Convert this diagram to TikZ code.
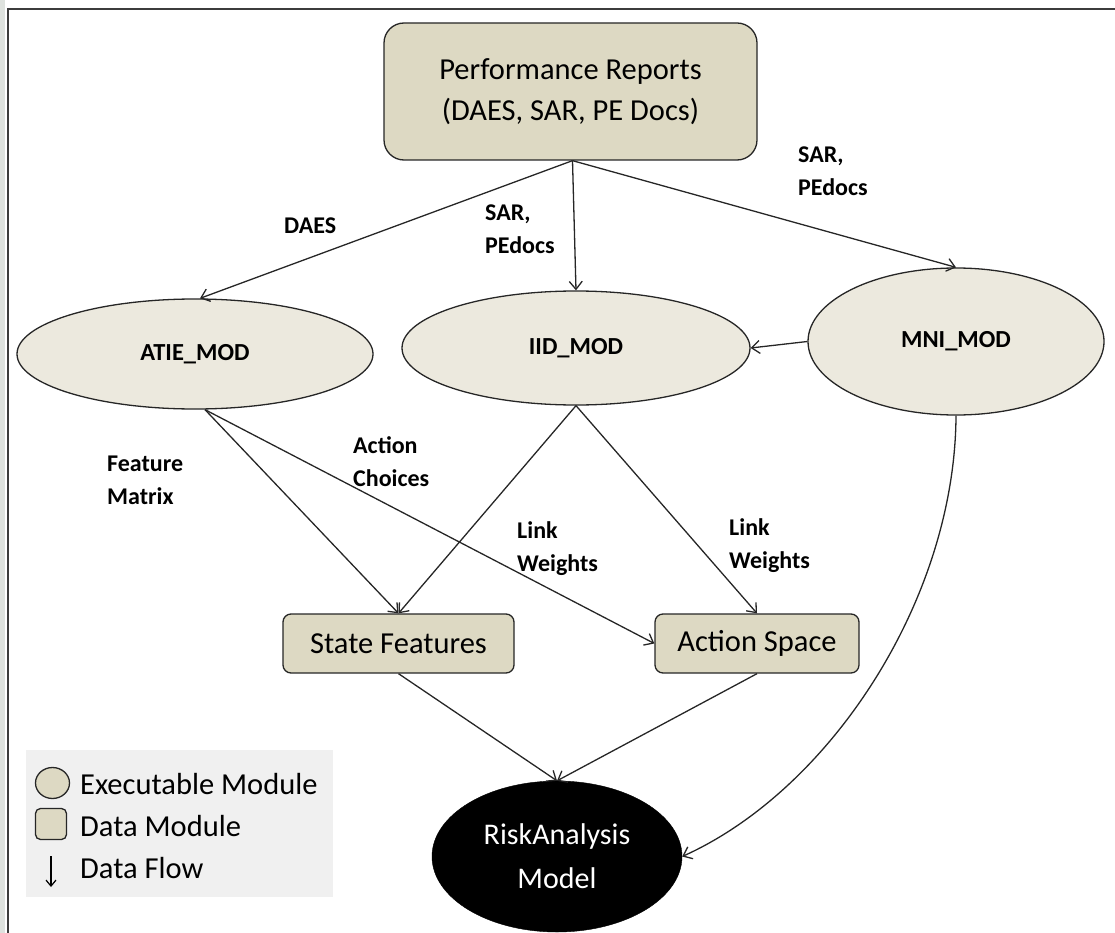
\documentclass[tikz,border=0pt]{standalone}
\usepackage{fontspec}
\setmainfont{Carlito}
\usetikzlibrary{arrows.meta,shapes.geometric}
\definecolor{boxfill}{RGB}{221,217,195}
\definecolor{ellfill}{RGB}{236,233,222}
\definecolor{legfill}{RGB}{240,240,240}
\definecolor{framec}{RGB}{60,60,60}
\definecolor{stripc}{RGB}{222,226,222}
\tikzset{
  databox/.style={draw=black!85, line width=1.3pt, fill=boxfill, rounded corners=8pt, inner sep=0pt,
    font=\fontsize{30.5}{36}\selectfont, text=black},
  execell/.style={ellipse, draw=black!85, line width=1.3pt, fill=ellfill, inner sep=0pt,
    font=\bfseries\fontsize{24.5}{30}\selectfont},
  flow/.style={draw=black!85, line width=1.3pt, -{Straight Barb[length=8pt,width=13pt,line width=1.3pt]}},
  lbl/.style={anchor=north west, align=left, inner sep=0pt, font=\bfseries\fontsize{24}{33}\selectfont},
  legtxt/.style={anchor=west, inner sep=0pt, font=\fontsize{30.5}{36}\selectfont}
}
\begin{document}
\begin{tikzpicture}[x=1pt,y=-1pt]
\useasboundingbox (0,0) rectangle (1115,933);
% frame
\fill[stripc] (0,0) rectangle (5,933);
\draw[framec, line width=2pt] (8,933) -- (8,9.5) -- (1115,9.5);

% nodes
\node[databox, rounded corners=20pt, minimum width=373pt, minimum height=137pt, align=center,
  font=\fontsize{30.5}{41}\selectfont] (perf) at (570.5,91.5) {Performance Reports\\(DAES, SAR, PE Docs)};
\node[execell, minimum width=356pt, minimum height=110pt] (atie) at (195,354) {ATIE\_MOD};
\node[execell, minimum width=348pt, minimum height=114pt] (iid) at (576,348) {IID\_MOD};
\node[execell, minimum width=296pt, minimum height=147pt] (mni) at (956,341.5) {MNI\_MOD};
\node[databox, minimum width=231pt, minimum height=59pt] (state) at (398.5,643.5) {State Features};
\node[databox, minimum width=204pt, minimum height=59pt] (action) at (757,643.5) {Action Space};
\node[ellipse, fill=black, draw=black, minimum width=250pt, minimum height=151pt, inner sep=0pt,
  align=center, text=white, font=\fontsize{30}{44}\selectfont] (risk) at (557,856.5) {RiskAnalysis\\Model};

% connectors
\draw[flow] ([xshift=2pt]perf.south) -- ([xshift=5pt]atie.north);
\draw[flow] ([xshift=2pt]perf.south) -- (iid.north);
\draw[flow] ([xshift=2pt]perf.south) -- (mni.north);
\draw[flow] (mni.west) -- (iid.east);
\coordinate (atieout) at ([xshift=10pt]atie.south);
\draw[flow] (atieout) -- (state.north);
\draw[flow] (atieout) -- (action.west);
\draw[flow] (iid.south) -- (state.north);
\draw[flow] (iid.south) -- (action.north);
\draw[flow] (state.south) -- (risk.north);
\draw[flow] (action.south) -- (risk.north);
\draw[flow] (mni.south) .. controls (955,600) and (830,790) .. (risk.east);

% labels
\node[lbl] (l1) at (284,218) {DAES};
\node[lbl] (l2) at (485,205) {SAR,\\PEdocs};
\node[lbl] (l3) at (798,147) {SAR,\\PEdocs};
\node[lbl] (l4) at (107,456) {Feature\\Matrix};
\node[lbl] (l5) at (353,436) {Action\\Choices};
\node[lbl] (l6) at (517,521) {Link\\Weights};
\node[lbl] (l7) at (729,518) {Link\\Weights};

% legend
\node[fill=legfill, minimum width=307pt, minimum height=147pt, inner sep=0pt] (legend) at (179.5,823.5) {};
\node[ellipse, draw=black!85, line width=1.3pt, fill=boxfill, minimum width=34pt, minimum height=31pt, inner sep=0pt] (legE) at (52.5,783) {};
\node[draw=black!85, line width=1.3pt, fill=boxfill, rounded corners=5pt, minimum width=31pt, minimum height=31pt, inner sep=0pt] (legD) at (51,824) {};
\coordinate (legAtop) at (51,856);
\coordinate (legAbot) at (51,887);
\draw[line width=1.2pt, -{Straight Barb[length=6pt,width=10pt,line width=1.2pt]}] (legAtop) -- (legAbot);
\node[legtxt] (t1) at (80,784) {Executable Module};
\node[legtxt] (t2) at (80,826) {Data Module};
\node[legtxt] (t3) at (80,868) {Data Flow};
\end{tikzpicture}
\end{document}
